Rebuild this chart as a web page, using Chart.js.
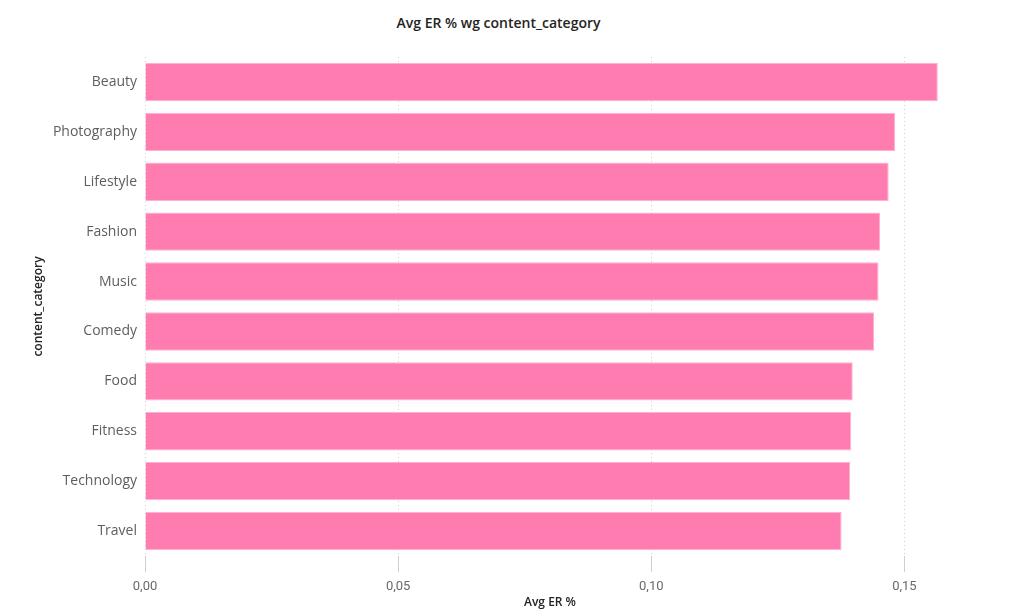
<!DOCTYPE html>
<html>
<head>
<meta charset="utf-8">
<script src="https://cdn.jsdelivr.net/npm/chart.js@4/dist/chart.umd.min.js"></script>
<style>
  body { margin: 0; background: #fff; }
  #wrap { position: relative; width: 1024px; height: 614px; }
  #title {
    position: absolute; left: 0; top: 13px; width: 997px;
    text-align: center; font: 600 14px "Open Sans", sans-serif; color: #252423;
  }
  canvas { position: absolute; left: 0; top: 0; }
</style>
</head>
<body>
<div id="wrap">
  <div id="title">Avg ER % wg content_category</div>
  <canvas id="erChart" width="1024" height="614"></canvas>
</div>
<script>
// Data
const categories = ['Beauty', 'Photography', 'Lifestyle', 'Fashion', 'Music', 'Comedy', 'Food', 'Fitness', 'Technology', 'Travel'];
const avgER = [0.1566, 0.1482, 0.1469, 0.1452, 0.1449, 0.1440, 0.1398, 0.1395, 0.1393, 0.1376];
const xTickValues = [0, 0.05, 0.10, 0.15];
const xTickLabels = ['0,00', '0,05', '0,10', '0,15'];

function initChart() {
  new Chart(document.getElementById('erChart'), {
    type: 'bar',
    data: {
      labels: categories,
      datasets: [{
        label: 'Avg ER %',
        data: avgER,
        backgroundColor: '#FF7CB0',
        borderColor: '#FFB0CF',
        borderWidth: 1,
        barPercentage: 0.77,
        categoryPercentage: 1
      }]
    },
    options: {
      indexAxis: 'y',
      responsive: false,
      animation: false,
      layout: {
        padding: { top: 57, right: 69, left: 0, bottom: 0 }
      },
      scales: {
        x: {
          min: 0,
          max: 0.16,
          afterBuildTicks: function(scale) {
            scale.ticks = xTickValues.map(v => ({ value: v }));
          },
          afterFit: function(scale) {
            scale.height = 58;
          },
          grid: {
            color: '#CFCFCF',
            tickLength: 16,
            tickColor: '#CFCFCF'
          },
          border: { display: false, dash: [1, 3] },
          ticks: {
            padding: 7,
            color: '#6B6A68',
            font: { family: 'Roboto', size: 13 },
            callback: function(value, index) {
              return xTickLabels[index];
            }
          },
          title: {
            display: true,
            text: 'Avg ER %',
            color: '#252423',
            font: { family: 'Open Sans', size: 12, weight: '600' },
            padding: { top: 0, bottom: 4 }
          }
        },
        y: {
          afterFit: function(scale) {
            scale.width = 145;
          },
          grid: { display: false, drawTicks: false },
          border: { display: false },
          ticks: {
            padding: 8,
            color: '#605E5C',
            font: { family: 'Open Sans', size: 14 }
          },
          title: {
            display: true,
            text: 'content_category',
            color: '#252423',
            font: { family: 'Open Sans', size: 12, weight: '600' },
            padding: { top: 31, bottom: 0 }
          }
        }
      },
      plugins: {
        legend: { display: false },
        tooltip: { enabled: false }
      }
    }
  });
}

document.addEventListener('DOMContentLoaded', initChart);
</script>
</body>
</html>
